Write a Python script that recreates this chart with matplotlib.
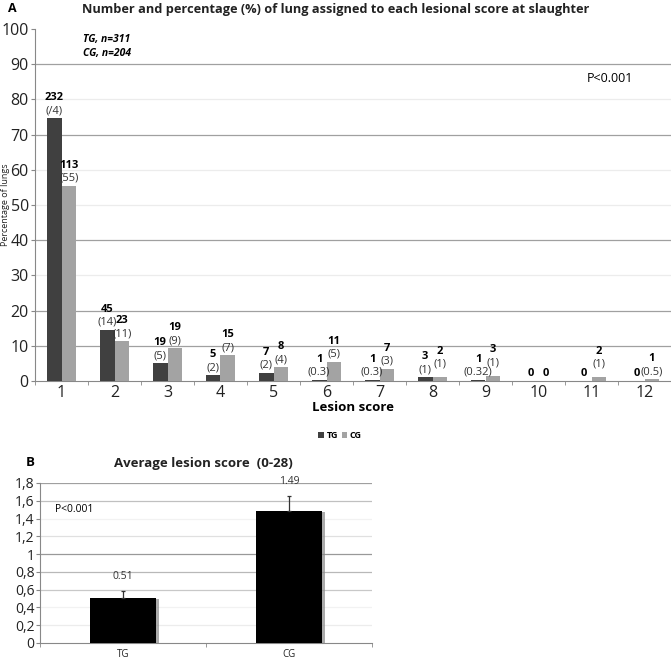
import matplotlib
matplotlib.use("Agg")
import matplotlib.pyplot as plt
import matplotlib.patheffects as pe
import numpy as np

plt.rcParams['font.family'] = ['Open Sans', 'DejaVu Sans']

scores = [1, 2, 3, 4, 5, 6, 7, 8, 9, 10, 11, 12]
tg_pct = [74.6, 14.5, 5.0, 1.6, 2.25, 0.3, 0.3, 1.0, 0.32, 0, 0, 0]
cg_pct = [55.4, 11.3, 9.3, 7.35, 3.9, 5.4, 3.4, 1.0, 1.5, 0, 1.0, 0.5]
tg_n = ['232', '45', '19', '5', '7', '1', '1', '3', '1', '0', '0', '0']
cg_n = ['113', '23', '19', '15', '8', '11', '7', '2', '3', '0', '2', '1']
tg_lab = ['(/4)', '(14)', '(5)', '(2)', '(2)', '(0.3)', '(0.3)', '(1)', '(0.32)', '', '', '']
cg_lab = ['(55)', '(11)', '(9)', '(7)', '(4)', '(5)', '(3)', '(1)', '(1)', '', '(1)', '(0.5)']

groups = ['TG', 'CG']
avg_score = [0.51, 1.49]
avg_err = [0.07, 0.16]
avg_lab = ['0.51', '1.49']

TG_COLOR = '#404040'
CG_COLOR = '#a3a3a3'

# extra vertical lift (points) for a few CG labels, as in the reference layout
cg_lift = {8: 4, 9: 4, 11: 4}

fig = plt.figure(figsize=(6.71, 6.60), dpi=100)

# ---------- Panel A ----------
axA = fig.add_axes([35/671, 1-381/660, (671-35)/671, (381-29)/660])
x = np.array(scores, dtype=float)
w = 0.28
axA.bar(x - w/2, tg_pct, w, color=TG_COLOR, zorder=3, label='TG')
axA.bar(x + w/2, cg_pct, w, color=CG_COLOR, zorder=3, label='CG')
axA.set_xlim(0.5, 12.5)
axA.set_ylim(0, 100)
axA.set_yticks(np.arange(0, 101, 10))
axA.set_xticks(scores)
axA.set_xticks(np.arange(0.5, 12.6, 1), minor=True)
axA.tick_params(axis='x', which='major', length=0, labelsize=11.5, pad=3, colors='#222222')
axA.tick_params(axis='x', which='minor', length=3, color='#888888', direction='out')
axA.tick_params(axis='y', length=3, color='#888888', labelsize=11.5, pad=1.5, colors='#222222')
dark = {10, 20, 40, 70, 90}
for v in range(10, 100, 10):
    axA.axhline(v, color='#a0a0a0' if v in dark else '#ececec', lw=0.9, zorder=1)
for s in ['top', 'right']:
    axA.spines[s].set_visible(False)
axA.spines['left'].set_color('#888888')
axA.spines['bottom'].set_color('#888888')
axA.set_xlabel('Lesion score', fontsize=9.5, fontweight='bold', labelpad=0)
fig.text(6/671, 1-205/660, 'Percentage of lungs', rotation=90, ha='center', va='center',
         fontsize=6.5, color='#222222')

for i, s in enumerate(scores):
    for xs, val, n, lab, lift in ((s - w/2, tg_pct[i], tg_n[i], tg_lab[i], 0),
                                  (s + w/2, cg_pct[i], cg_n[i], cg_lab[i], cg_lift.get(s, 0))):
        if lab:
            axA.annotate(lab, (xs, val), xytext=(0, 1.5 + lift), textcoords='offset points',
                         ha='center', va='bottom', fontsize=8, color='#333333')
            axA.annotate(n, (xs, val), xytext=(0, 11 + lift), textcoords='offset points',
                         ha='center', va='bottom', fontsize=8, fontweight='bold')
        else:
            axA.annotate(n, (xs, val), xytext=(0, 1.5), textcoords='offset points',
                         ha='center', va='bottom', fontsize=8, fontweight='bold')

axA.text(0.075, 0.987, 'TG, n=311', transform=axA.transAxes, fontsize=7.5,
         fontweight='bold', style='italic', va='top')
axA.text(0.075, 0.947, 'CG, n=204', transform=axA.transAxes, fontsize=7.5,
         fontweight='bold', style='italic', va='top')
axA.text(0.868, 0.86, 'P<0.001', transform=axA.transAxes, fontsize=9, va='center')

fig.text(336/671, 1-10/660, 'Number and percentage (%) of lung assigned to each lesional score at slaughter',
         ha='center', va='center', fontsize=9.2, fontweight='bold', color='#222222')
fig.text(8/671, 1-9/660, 'A', ha='left', va='center', fontsize=9, fontweight='bold')

leg = fig.legend(loc='center', bbox_to_anchor=(340/671, 1-436/660), ncol=2, frameon=False,
                 handlelength=0.6, handleheight=0.6, handletextpad=0.3,
                 columnspacing=0.4, prop={'weight': 'bold', 'size': 6.5})

# ---------- Panel B ----------
axB = fig.add_axes([40/671, 1-643/660, (372-40)/671, (643-483)/660])
xb = np.arange(len(groups))
shadow = [pe.SimplePatchShadow(offset=(2, -1), shadow_rgbFace='#888888', alpha=0.7), pe.Normal()]
bars = axB.bar(xb, avg_score, 0.4, color='black', zorder=3)
for b in bars:
    b.set_path_effects(shadow)
axB.errorbar(xb, avg_score, yerr=[[0, 0], avg_err], fmt='none', ecolor='#333333',
             elinewidth=0.9, capsize=1.5, capthick=0.9, zorder=4)
for i in range(len(groups)):
    axB.annotate(avg_lab[i], (xb[i], avg_score[i] + avg_err[i]), xytext=(0, 7),
                 textcoords='offset points', ha='center', va='bottom', fontsize=7.5, color='#333333')
axB.set_xlim(-0.5, 1.5)
axB.set_ylim(0, 1.8)
yt = np.round(np.arange(0, 1.81, 0.2), 1)
axB.set_yticks(yt)
axB.set_yticklabels([('%g' % v).replace('.', ',') for v in yt])
axB.set_xticks(xb)
axB.set_xticklabels(groups)
axB.set_xticks([-0.5, 0.5, 1.5], minor=True)
axB.tick_params(axis='x', which='major', length=0, labelsize=7, pad=4, colors='#222222')
axB.tick_params(axis='x', which='minor', length=3, color='#888888')
axB.tick_params(axis='y', length=3, color='#888888', labelsize=10, pad=1, colors='#222222')
gridc = {0.2: '#ececec', 0.4: '#f2f2f2', 0.6: '#c8c8c8', 0.8: '#b8b8b8', 1.0: '#999999',
         1.2: '#e0e0e0', 1.4: '#f2f2f2', 1.6: '#c0c0c0', 1.8: '#a0a0a0'}
for v, c in gridc.items():
    axB.axhline(v, color=c, lw=0.9, zorder=1)
for s in ['top', 'right']:
    axB.spines[s].set_visible(False)
axB.spines['left'].set_color('#888888')
axB.spines['bottom'].set_color('#888888')
axB.text(0.045, 0.835, 'P<0.001', transform=axB.transAxes, fontsize=7.5, va='center')

fig.text(203/671, 1-463/660, 'Average lesion score  (0-28)', ha='center', va='center',
         fontsize=9.5, fontweight='bold', color='#222222')
fig.text(30/671, 1-462/660, 'B', ha='center', va='center', fontsize=9.5, fontweight='bold')

fig.savefig('out.png', dpi=100)
